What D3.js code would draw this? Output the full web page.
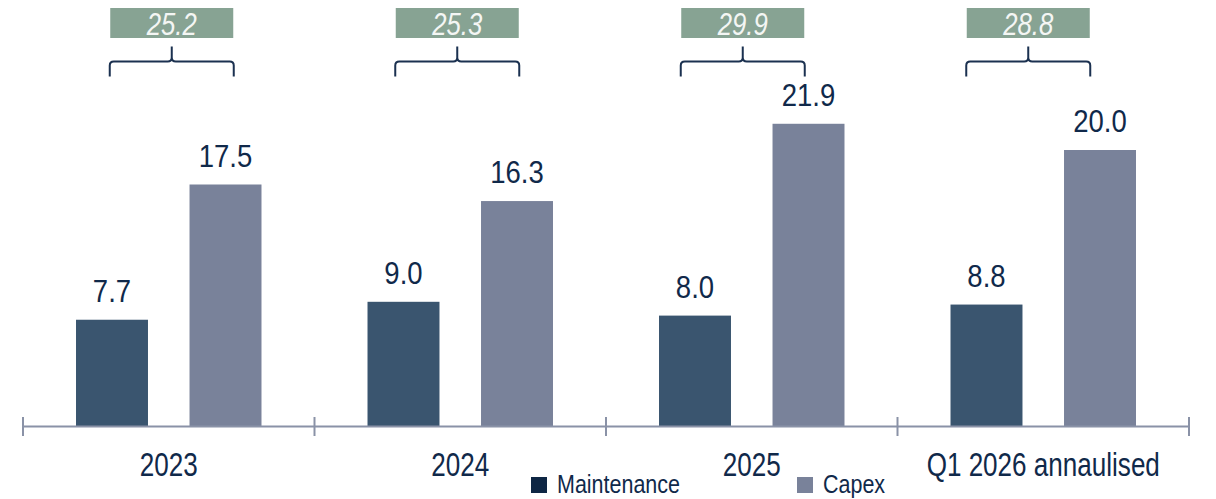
<!DOCTYPE html>
<html>
<head>
<meta charset="utf-8">
<script src="https://cdn.jsdelivr.net/npm/d3@7/dist/d3.min.js"></script>
<style>
  html, body { margin: 0; padding: 0; background: #ffffff; }
  svg { display: block; }
  text { font-family: "Liberation Sans", Arial, sans-serif; }
</style>
</head>
<body>
<svg id="chart" width="1216" height="499"></svg>
<script>
// Categories and series
const categories = ["2023", "2024", "2025", "Q1 2026 annaulised"];
const seriesNames = ["Maintenance", "Capex"];
const maintenance = [7.7, 9.0, 8.0, 8.8];
const capex = [17.5, 16.3, 21.9, 20.0];
const totals = [25.2, 25.3, 29.9, 28.8];

const colors = {
  Maintenance: "#3a556f",
  Capex: "#79829a",
  legendMaintenance: "#0e2644",
  axis: "#8a92a7",
  text: "#10294a",
  totalBox: "#87a393",
  brace: "#1b3150"
};

const svg = d3.select("#chart");

// Condensed lettering: regular sans squeezed horizontally around its anchor
function condensed(sel, xFn, yFn, sx) {
  return sel.attr("transform", (d, i) => `translate(${xFn(d, i)},${yFn(d, i)}) scale(${sx},1)`)
    .attr("x", 0).attr("y", 0);
}

// Scales
const x = d3.scaleBand().domain(categories).range([23, 1189]).padding(0);
const xInner = d3.scaleBand().domain(seriesNames)
  .range([0, x.bandwidth()])
  .paddingInner(0.366)
  .paddingOuter(0.467);
const y = d3.scaleLinear().domain([0, 30]).range([426, 12]);
// Annotation layer (total boxes + braces) sits on its own band scale
const xTotals = d3.scaleBand().domain(categories).range([29, 1171]).padding(0);

const rows = categories.map((c, i) => ({
  category: c,
  values: [
    { key: "Maintenance", value: maintenance[i] },
    { key: "Capex", value: capex[i] }
  ],
  total: totals[i]
}));

// Bars
const groups = svg.append("g").selectAll("g")
  .data(rows).join("g")
  .attr("transform", d => `translate(${x(d.category)},0)`);

groups.selectAll("rect")
  .data(d => d.values).join("rect")
  .attr("x", d => xInner(d.key))
  .attr("width", xInner.bandwidth())
  .attr("y", d => y(d.value))
  .attr("height", d => y(0) - y(d.value))
  .attr("fill", d => colors[d.key]);

// Value labels
groups.selectAll("text.val")
  .data(d => d.values).join("text")
  .attr("class", "val")
  .call(condensed, d => xInner(d.key) + xInner.bandwidth() / 2, d => y(d.value) - 18, 0.86)
  .attr("text-anchor", "middle")
  .attr("font-size", 32)
  .attr("fill", colors.text)
  .text(d => d.value.toFixed(1));

// Category axis
const axisG = svg.append("g");
axisG.append("line")
  .attr("x1", x.range()[0]).attr("x2", x.range()[1])
  .attr("y1", y(0) + 0.5).attr("y2", y(0) + 0.5)
  .attr("stroke", colors.axis).attr("stroke-width", 2);
const tickXs = categories.map(c => x(c)).concat([x.range()[1]]);
axisG.selectAll("line.tick")
  .data(tickXs).join("line")
  .attr("class", "tick")
  .attr("x1", d => d).attr("x2", d => d)
  .attr("y1", y(0) - 9).attr("y2", y(0) + 10)
  .attr("stroke", colors.axis).attr("stroke-width", 2);
axisG.selectAll("text")
  .data(categories).join("text")
  .call(condensed, d => x(d) + x.bandwidth() / 2, () => 476, 0.79)
  .attr("text-anchor", "middle")
  .attr("font-size", 33)
  .attr("fill", colors.text)
  .text(d => d);

// Total boxes with braces
const boxW = 123, boxH = 30, boxTop = 8;
const braceW = 124, braceY = 61.5, braceDrop = 15, braceSpike = 15, r = 4;
const tot = svg.append("g").selectAll("g")
  .data(rows).join("g")
  .attr("transform", d => `translate(${xTotals(d.category) + xTotals.bandwidth() / 2},0)`);

tot.append("rect")
  .attr("x", -boxW / 2).attr("y", boxTop)
  .attr("width", boxW).attr("height", boxH)
  .attr("fill", colors.totalBox);

tot.append("text")
  .call(condensed, () => 0, () => boxTop + 27, 0.83)
  .attr("text-anchor", "middle")
  .attr("font-size", 31)
  .attr("font-style", "italic")
  .attr("fill", "#f4f6f4")
  .text(d => d.total.toFixed(1));

tot.append("path")
  .attr("d", () => {
    const L = -braceW / 2, R = braceW / 2;
    return `M${L},${braceY + braceDrop} L${L},${braceY + r} Q${L},${braceY} ${L + r},${braceY}` +
      ` L${-r},${braceY} Q0,${braceY} 0,${braceY - r} L0,${braceY - braceSpike}` +
      ` M0,${braceY - r} Q0,${braceY} ${r},${braceY} L${R - r},${braceY}` +
      ` Q${R},${braceY} ${R},${braceY + r} L${R},${braceY + braceDrop}`;
  })
  .attr("fill", "none")
  .attr("stroke", colors.brace)
  .attr("stroke-width", 2);

// Legend
const legend = svg.append("g");
const legendItems = [
  { name: "Maintenance", color: colors.legendMaintenance, x: 531 },
  { name: "Capex", color: colors.Capex, x: 797 }
];
const li = legend.selectAll("g").data(legendItems).join("g")
  .attr("transform", d => `translate(${d.x},477)`);
li.append("rect").attr("width", 16).attr("height", 16).attr("fill", d => d.color);
li.append("text")
  .call(condensed, () => 26, () => 16, 0.86)
  .attr("font-size", 25)
  .attr("fill", colors.text)
  .text(d => d.name);
</script>
</body>
</html>
